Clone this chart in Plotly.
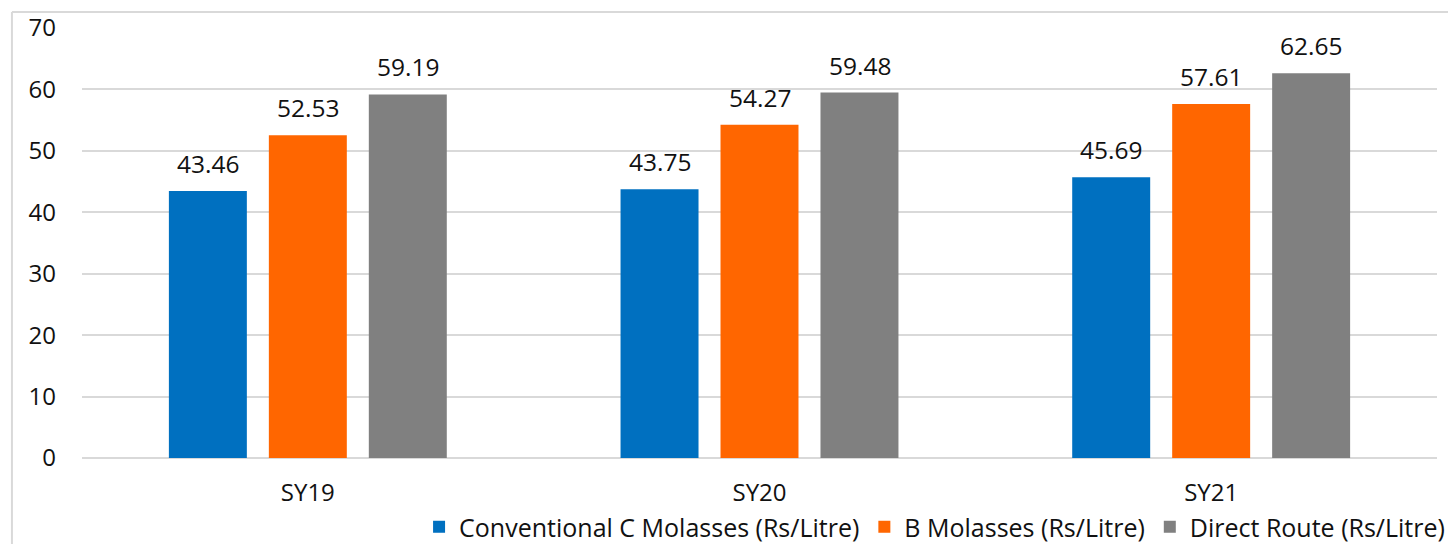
import plotly.graph_objects as go

categories = ["SY19", "SY20", "SY21"]
series_names = ["Conventional C Molasses (Rs/Litre)", "B Molasses (Rs/Litre)", "Direct Route (Rs/Litre)"]
conv_c = [43.46, 43.75, 45.69]
b_mol = [52.53, 54.27, 57.61]
direct = [59.19, 59.48, 62.65]
colors = ["#0070C0", "#FF6600", "#808080"]
y_ticks = [0, 10, 20, 30, 40, 50, 60, 70]

series = [conv_c, b_mol, direct]
slot_shift = [-100, 0, 100]

fig = go.Figure()
for name, vals, c in zip(series_names, series, colors):
    fig.add_trace(go.Bar(
        x=categories, y=vals, name=name, marker_color=c, marker_line_width=0,
    ))

annotations = []
for vals, dx in zip(series, slot_shift):
    for cat, v in zip(categories, vals):
        annotations.append(dict(
            x=cat, y=v, xref="x", yref="y", text=f"{v:.2f}", showarrow=False,
            xshift=dx, yshift=9, yanchor="bottom",
            font=dict(size=24.5, color="#111111", family="Open Sans"),
        ))

fig.update_layout(
    width=1448, height=536,
    margin=dict(l=74, r=19, t=20, b=86, autoexpand=False),
    paper_bgcolor="white", plot_bgcolor="white",
    barmode="group", bargap=0.336, bargroupgap=0.22,
    font=dict(family="Open Sans", size=24, color="#111111"),
    showlegend=True,
    legend=dict(orientation="h", xref="container", yref="container",
                x=0.9959, xanchor="right", y=0.0317, yanchor="middle",
                font=dict(size=25, family="Open Sans"), traceorder="normal",
                bgcolor="rgba(0,0,0,0)"),
    xaxis=dict(showgrid=False, showline=False, ticks="", tickfont=dict(size=24),
               ticklabelstandoff=18),
    yaxis=dict(range=[0, 70], tickvals=y_ticks, showgrid=True, gridcolor="#D9D9D9",
               gridwidth=1.5, zeroline=True, zerolinecolor="#D9D9D9", zerolinewidth=1.5,
               showline=False, ticks="", tickfont=dict(size=24), ticklabelstandoff=25),
    annotations=annotations,
    shapes=[
        dict(type="line", xref="paper", yref="paper", x0=-0.0517, x1=1.03, y0=1.0372, y1=1.0372,
             line=dict(color="#D9D9D9", width=2)),
        dict(type="line", xref="paper", yref="paper", x0=-0.0517, x1=-0.0517, y0=1.0372, y1=-0.21,
             line=dict(color="#D9D9D9", width=2)),
    ],
)
fig.write_html("out.html")
